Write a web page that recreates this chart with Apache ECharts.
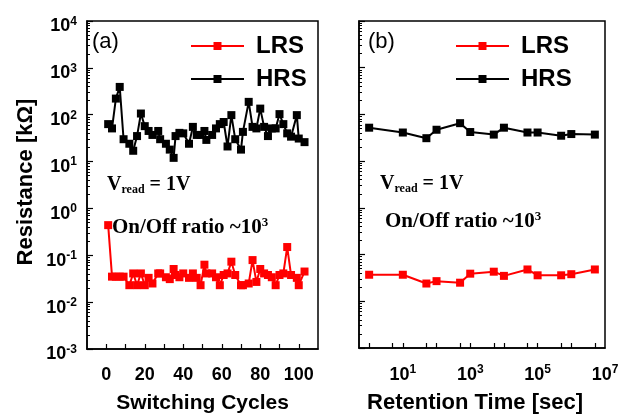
<!DOCTYPE html>
<html><head><meta charset="utf-8">
<script src="https://cdn.jsdelivr.net/npm/echarts@6/dist/echarts.min.js"></script>
<style>html,body{margin:0;padding:0;background:#fff}#c{width:622px;height:419px}</style>
</head><body><div id="c"></div>
<script>
// ---- data ----
const cycles = [1,3,5,7,9,12,14,16,18,20,22,24,27,28,31,33,35,36,38,40,43,45,47,49,51,52,55,57,59,61,63,65,67,70,71,74,76,78,80,82,84,86,88,90,92,94,96,99,100,103];
const cycleHRS = [63,51,221,392,30,24,17,35,106,57,45,37,45,30,24,18,12,35,41,40,24,55,37,37,45,29,37,51,63,70,21,98,30,18,43,188,55,51,135,55,35,51,51,103,63,40,34,98,31,26];
const cycleLRS = [0.44,0.035,0.035,0.035,0.035,0.023,0.041,0.023,0.041,0.023,0.033,0.025,0.041,0.041,0.034,0.031,0.051,0.038,0.034,0.041,0.033,0.041,0.033,0.023,0.063,0.041,0.041,0.034,0.023,0.038,0.041,0.073,0.038,0.023,0.023,0.025,0.079,0.027,0.051,0.041,0.038,0.034,0.023,0.038,0.041,0.15,0.038,0.033,0.023,0.045];
const times = [1,10,50,100,500,1000,5000,1e4,5e4,1e5,5e5,1e6,5e6];
const timeHRS = [52,41,31,47,65,42,37,52,41,41,35,38,37];
const timeLRS = [0.037,0.037,0.024,0.027,0.025,0.039,0.043,0.035,0.048,0.036,0.036,0.038,0.048];
const cycleTicks = [0,10,20,30,40,50,60,70,80,90,100];
const cycleLabels = [0,20,40,60,80,100];
const timeTicks = [1,5,10,50,100,500,1000,5000,1e4,5e4,1e5,5e5,1e6,5e6];
const timeLabels = [10,1000,1e5,1e7];
const resDecades = [1e-3,1e-2,1e-1,1,10,100,1000,1e4];
const minorMultipliers = [2,3,4,5,6,7,8,9];
const seriesNames = ['LRS','HRS'];

const SANS = '"Liberation Sans", Arial, sans-serif';
const SERIF = '"Liberation Serif", "Times New Roman", serif';
const supRich = {
  b: {fontSize: 18, fontWeight: 'bold', fontFamily: SANS, color: '#000'},
  sup: {fontSize: 12, fontWeight: 'bold', fontFamily: SANS, color: '#000', padding: [0,0,10,0]}
};
const powFmt = v => '{b|10}{sup|' + Math.round(Math.log10(v)) + '}';
const lineAx = {onZero: false, lineStyle: {color: '#000', width: 1.5}};
const resMinor = [];
resDecades.slice(0, -1).forEach(d => minorMultipliers.forEach(m => resMinor.push(m * d)));

function pairs(xs, ys) { return xs.map((x, i) => [x, ys[i]]); }

const chart = echarts.init(document.getElementById('c'), null, {renderer: 'canvas'});
const yBase = (gi, showLabel) => ({
  type: 'log', gridIndex: gi, logBase: 10, min: 1e-3, max: 1e4, position: 'left',
  axisLine: lineAx,
  axisTick: {inside: true, length: 6, customValues: resDecades, lineStyle: {color: '#000', width: 1.2}},
  minorTick: {show: false},
  splitLine: {show: false}, minorSplitLine: {show: false},
  axisLabel: {show: showLabel, customValues: resDecades, formatter: powFmt, rich: supRich, margin: 10, padding: [11,0,0,0]},
  name: showLabel ? 'Resistance [kΩ]' : '', nameLocation: 'middle', nameGap: 50,
  nameTextStyle: {fontSize: 22, fontWeight: 'bold', fontFamily: SANS, color: '#000', padding: [0,0,0,6]}
});
const yMinor = (gi) => ({
  type: 'log', gridIndex: gi, logBase: 10, min: 1e-3, max: 1e4, position: 'left',
  axisLine: {show: false, onZero: false},
  axisTick: {inside: true, length: 3, customValues: resMinor, lineStyle: {color: '#000', width: 1}},
  axisLabel: {show: false}, splitLine: {show: false}
});
const mkSeries = (name, xi, xs, ys, color) => ({
  name, type: 'line', xAxisIndex: xi, yAxisIndex: xi, data: pairs(xs, ys),
  symbol: 'rect', symbolSize: 8, color,
  lineStyle: {color, width: 2}, itemStyle: {color}
});
const legendCfg = (left) => ({
  left, top: 34, orient: 'vertical', itemWidth: 53, itemHeight: 10, itemGap: 9, padding: 0,
  data: seriesNames, selectedMode: false,
  textStyle: {fontSize: 24, fontWeight: 'bold', fontFamily: SANS, color: '#000', padding: [0,0,0,7]}
});
const txt = (x, y, text, font, rich) => ({
  type: 'text', x, y,
  style: {text, font, fill: '#000', verticalAlign: 'middle', rich: rich || {}}
});
const vRich = {
  v: {font: 'bold 20px ' + SERIF, fill: '#000'},
  s: {font: 'bold 12px ' + SERIF, fill: '#000', padding: [9,0,0,0]}
};
const rRich = {
  r: {font: 'bold 21px ' + SERIF, fill: '#000'},
  p: {font: 'bold 13px ' + SERIF, fill: '#000', padding: [0,0,11,0]}
};

chart.setOption({
  animation: false,
  backgroundColor: '#fff',
  grid: [
    {left: 87, top: 21, width: 231, height: 328, show: true, borderColor: '#000', borderWidth: 1.5},
    {left: 359, top: 21, width: 246, height: 328, show: true, borderColor: '#000', borderWidth: 1.5}
  ],
  xAxis: [
    {type: 'value', gridIndex: 0, min: -10, max: 110,
     axisLine: lineAx,
     axisTick: {inside: true, length: 5, customValues: cycleTicks, lineStyle: {color: '#000', width: 1.2}},
     axisLabel: {customValues: cycleLabels, fontSize: 18, fontWeight: 'bold', fontFamily: SANS, color: '#000', margin: 17},
     splitLine: {show: false},
     name: 'Switching Cycles', nameLocation: 'middle', nameGap: 44,
     nameTextStyle: {fontSize: 21, fontWeight: 'bold', fontFamily: SANS, color: '#000'}},
    {type: 'log', gridIndex: 1, logBase: 10, min: 0.5, max: 1e7,
     axisLine: lineAx,
     axisTick: {inside: true, length: 5, customValues: timeTicks, lineStyle: {color: '#000', width: 1.2}},
     axisLabel: {customValues: timeLabels, formatter: powFmt, rich: supRich, margin: 16},
     splitLine: {show: false},
     name: 'Retention Time [sec]', nameLocation: 'middle', nameGap: 44,
     nameTextStyle: {fontSize: 22, fontWeight: 'bold', fontFamily: SANS, color: '#000', padding: [0,14,0,0]}}
  ],
  yAxis: [yBase(0, true), yBase(1, false), yMinor(0), yMinor(1)],
  legend: [legendCfg(190), legendCfg(455)],
  series: [
    mkSeries('LRS', 0, cycles, cycleLRS, '#ff0000'),
    mkSeries('HRS', 0, cycles, cycleHRS, '#000000'),
    mkSeries('LRS', 1, times, timeLRS, '#ff0000'),
    mkSeries('HRS', 1, times, timeHRS, '#000000')
  ],
  graphic: [
    txt(92, 42, '(a)', '22px ' + SANS),
    txt(368, 42, '(b)', '22px ' + SANS),
    txt(107, 185, '{v|V}{s|read}{v| = 1V}', 'bold 20px ' + SERIF, vRich),
    txt(380, 184, '{v|V}{s|read}{v| = 1V}', 'bold 20px ' + SERIF, vRich),
    txt(112, 228, '{r|On/Off ratio ~10}{p|3}', 'bold 21px ' + SERIF, rRich),
    txt(385, 222, '{r|On/Off ratio ~10}{p|3}', 'bold 21px ' + SERIF, rRich)
  ]
});
</script></body></html>
